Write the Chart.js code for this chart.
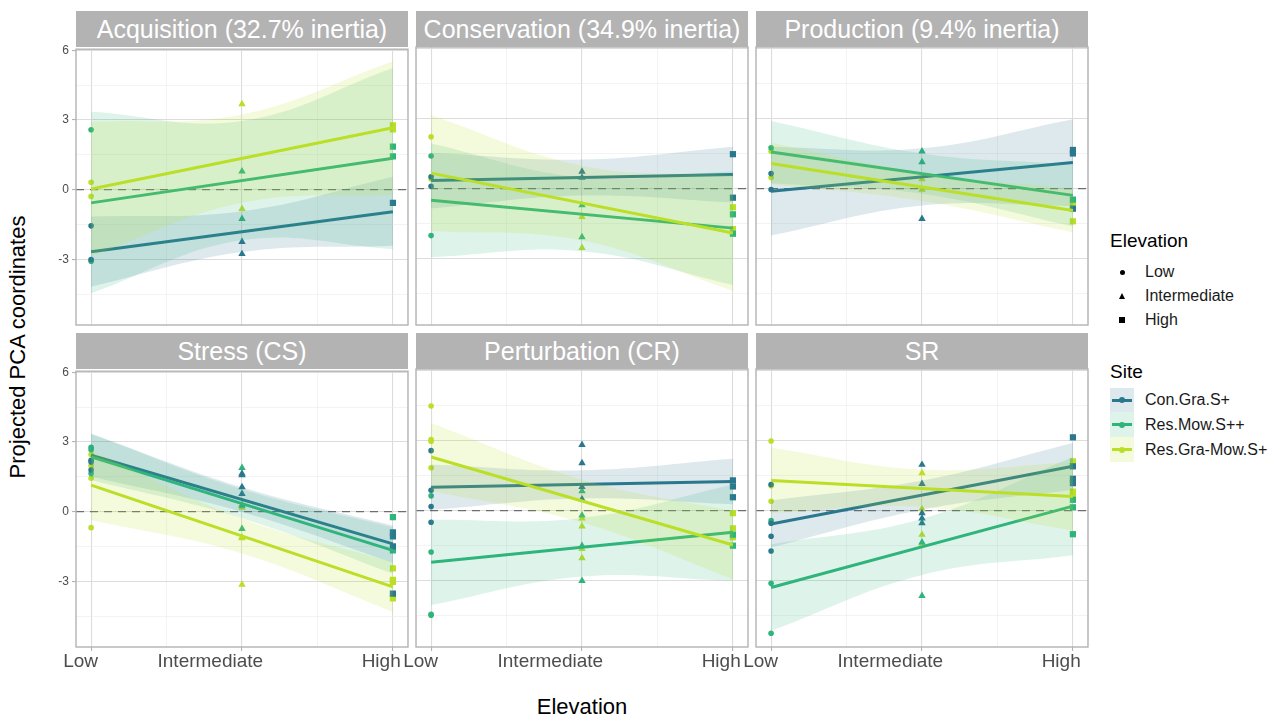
<!DOCTYPE html>
<html>
<head>
<meta charset="utf-8">
<script src="https://cdn.jsdelivr.net/npm/chart.js@4.4.1/dist/chart.umd.min.js"></script>
<style>
  body { margin: 0; background: #fff; font-family: "Liberation Sans", Arial, sans-serif; }
  #page { position: relative; width: 1283px; height: 717px; overflow: hidden; }
  .panel { position: absolute; }
  .strip { position: absolute; height: 36px; line-height: 37px; background: #b3b3b3; color: #fff;
           font-size: 25px; text-align: center; white-space: nowrap; }
  .title { position: absolute; font-size: 22px; color: #000; white-space: nowrap; }
  .lg-title { position: absolute; left: 1110px; font-size: 19px; color: #000; }
  .lg-text { position: absolute; left: 1145px; font-size: 16px; color: #1a1a1a; white-space: nowrap; }
  .sym { position: absolute; }
</style>
</head>
<body>
<div id="page"></div>
<script>
// facets, groups
const panelTitles = ['Acquisition (32.7% inertia)', 'Conservation (34.9% inertia)', 'Production (9.4% inertia)',
                     'Stress (CS)', 'Perturbation (CR)', 'SR'];
const sites = ['Con.Gra.S+', 'Res.Mow.S++', 'Res.Gra-Mow.S+'];
const elevations = ['Low', 'Intermediate', 'High'];
const yTickLabels = [-3, 0, 3, 6];

// observed PCA coordinates: [site][elevation] -> values
const ptsAcquisition = [
  [[-1.56, -3.01], [-2.25, -2.77], [-0.57]],
  [[2.58, -3.08], [0.79, -1.26], [1.85, 1.43]],
  [[0.32, -0.29], [3.69, -0.83], [2.77, 2.6]]
];
const ptsConservation = [
  [[0.5, 0.1], [0.73, 0.47], [1.47, -0.39]],
  [[1.39, -2.01], [-0.71, -2.07], [-1.1, -1.93]],
  [[2.21, 0.41], [-1.21, -2.53], [-0.8, -1.73]]
];
const ptsProduction = [
  [[0.64, -0.04], [-1.29], [1.65, 1.5, -0.86]],
  [[1.74], [1.59, 1.13], [-0.47]],
  [[1.6, 0.47], [0.41, -0.04], [-0.69, -1.4]]
];
const ptsStress = [
  [[2.21, 2.14, 1.79], [1.64, 1.57, 1.06, 0.77], [-0.89, -1.07, -1.5, -3.53]],
  [[2.77, 2.67, 1.64], [1.89, 0.26, -0.74], [-0.24, -1.67]],
  [[2.46, 1.97, 1.44, -0.69], [0.31, 0.17, -1.1, -1.14, -3.14], [-2.44, -2.94, -3.03, -3.74]]
];
const ptsPerturbation = [
  [[2.56, 0.87, 0.17, -0.5], [2.81, 2.03, 1.01, 0.49], [1.29, 1.03, 0.57]],
  [[0.63, -1.77, -4.43, -4.47], [0.83, -0.2, -1.51, -3.0], [-1.03, -1.5]],
  [[4.47, 3.04, 2.96, 1.83], [-0.33, -0.67, -1.64, -2.03], [-0.11, -0.76, -1.14]]
];
const ptsSR = [
  [[1.11, -0.54, -1.1, -1.73], [1.96, 1.14, -0.11, -0.33, -0.53], [3.13, 1.89, 1.36, 1.17]],
  [[-0.43, -3.11, -5.24], [-1.36, -3.64], [0.46, 0.14, -1.01]],
  [[2.97, 1.06, 0.4], [1.6, 0.07, -1.03, -1.4], [2.1, 0.81, 0.67]]
];

// fitted lines: [site] -> [Low, High]
const fitAcquisition = [[-2.67, -0.95], [-0.57, 1.35], [0.03, 2.67]];
const fitConservation = [[0.34, 0.6], [-0.5, -1.69], [0.66, -1.9]];
const fitProduction = [[-0.11, 1.11], [1.56, -0.29], [1.07, -0.94]];
const fitStress = [[2.43, -1.39], [2.36, -1.67], [1.14, -3.24]];
const fitPerturbation = [[1.0, 1.24], [-2.21, -0.93], [2.29, -1.47]];
const fitSR = [[-0.57, 1.89], [-3.29, 0.19], [1.29, 0.6]];

// confidence bands: [site] -> [upper(L,I,H), lower(L,I,H)]
const bandAcquisition = [
  [[-1.16, -0.93, 0.56], [-4.18, -2.69, -2.42]],
  [[3.36, 2.96, 5.24], [-4.46, -2.18, -2.56]],
  [[2.92, 3.24, 5.53], [-2.86, -0.56, -0.22]]
];
const bandConservation = [
  [[1.53, 1.24, 1.79], [-0.85, -0.3, -0.59]],
  [[1.93, 0.48, 0.74], [-2.93, -2.68, -4.12]],
  [[3.13, 0.98, 0.57], [-1.81, -2.22, -4.37]]
];
const bandProduction = [
  [[1.78, 1.72, 2.96], [-2.0, -0.72, -0.74]],
  [[2.89, 1.5, 1.04], [0.23, -0.22, -1.62]],
  [[1.96, 0.67, 0.0], [0.18, -0.53, -1.87]]
];
const bandStress = [
  [[3.36, 1.05, -0.6], [1.5, -0.01, -2.2]],
  [[3.36, 0.97, -0.67], [1.36, -0.28, -2.67]],
  [[2.64, -0.3, -2.17], [-0.36, -1.8, -4.31]]
];
const bandPerturbation = [
  [[1.97, 1.72, 2.21], [0.03, 0.52, 0.27]],
  [[-0.39, -0.32, 1.11], [-4.04, -2.82, -3.0]],
  [[3.74, 1.33, -0.02], [0.84, -0.51, -2.93]]
];
const bandSR = [
  [[0.43, 1.28, 2.89], [-1.57, 0.04, 0.89]],
  [[-1.44, -0.35, 2.29], [-5.14, -2.75, -1.91]],
  [[2.69, 1.75, 2.06], [-0.11, 0.15, -0.86]]
];

const allPts = [ptsAcquisition, ptsConservation, ptsProduction, ptsStress, ptsPerturbation, ptsSR];
const allFits = [fitAcquisition, fitConservation, fitProduction, fitStress, fitPerturbation, fitSR];
const allBands = [bandAcquisition, bandConservation, bandProduction, bandStress, bandPerturbation, bandSR];

// look
const siteColors = ['#2A788E', '#2FB47C', '#BBDF27'];
const siteFills = ['rgba(42,120,142,0.16)', 'rgba(47,180,124,0.16)', 'rgba(187,223,39,0.16)'];
const elevStyles = ['circle', 'triangle', 'rect'];
const elevRadius = [2.8, 4.3, 4.4];

const colLeft = [76, 416, 756];
const rowTop = [47, 369];
const panelW = 332, panelH = 278;
const padL = 40, padT = 8, padR = 14, padB = 32;
const xGrid = [1, 1.5, 2, 2.5, 3];
const yGrid = [-4.5, -3, -1.5, 0, 1.5, 3, 4.5, 6];

Chart.defaults.font.family = '"Liberation Sans", Arial, sans-serif';

const page = document.getElementById('page');

function isMajorX(v) { return Number.isInteger(v); }
function isMajorY(v) { return yTickLabels.includes(v); }

function buildDatasets(pts, fit, band) {
  const ds = [];
  pts.forEach((bySite, s) => {
    bySite.forEach((vals, e) => {
      ds.push({
        data: vals.map(v => ({x: e + 1, y: v})),
        pointStyle: elevStyles[e],
        pointRadius: elevRadius[e],
        backgroundColor: siteColors[s],
        borderWidth: 0,
        order: 100
      });
    });
  });
  fit.forEach((f, s) => {
    const o = 60 - 20 * s;
    ds.push({
      data: band[s][0].map((v, e) => ({x: e + 1, y: v})),
      showLine: true, tension: 0.4, borderWidth: 0, borderColor: 'rgba(0,0,0,0)',
      pointRadius: 0, fill: '+1', backgroundColor: siteFills[s], order: o
    });
    ds.push({
      data: band[s][1].map((v, e) => ({x: e + 1, y: v})),
      showLine: true, tension: 0.4, borderWidth: 0, borderColor: 'rgba(0,0,0,0)',
      pointRadius: 0, fill: false, order: o
    });
    ds.push({
      data: [{x: 1, y: f[0]}, {x: 3, y: f[1]}],
      showLine: true, borderColor: siteColors[s], borderWidth: 3,
      pointRadius: 0, fill: false, order: o - 10
    });
  });
  return ds;
}

function panelPlugin(showX) {
  return {
    id: 'panelDeco',
    beforeDatasetsDraw(chart) {
      const {ctx, chartArea: a, scales} = chart;
      const y0 = scales.y.getPixelForValue(0);
      ctx.save();
      ctx.strokeStyle = '#6e6e6e';
      ctx.lineWidth = 1.3;
      ctx.setLineDash([8, 6]);
      ctx.beginPath();
      ctx.moveTo(a.left, y0);
      ctx.lineTo(a.right, y0);
      ctx.stroke();
      ctx.restore();
    },
    afterDraw(chart) {
      const {ctx, chartArea: a, scales} = chart;
      ctx.save();
      ctx.strokeStyle = '#b3b3b3';
      ctx.lineWidth = 1.4;
      ctx.strokeRect(a.left, a.top, a.right - a.left, a.bottom - a.top);
      if (showX) {
        ctx.font = '19px "Liberation Sans", Arial, sans-serif';
        ctx.fillStyle = '#4d4d4d';
        ctx.textBaseline = 'top';
        ctx.textAlign = 'left';
        elevations.forEach((lab, i) => {
          const w = ctx.measureText(lab).width;
          const px = scales.x.getPixelForValue(i + 1);
          ctx.fillText(lab, px - 0.8 * w, a.bottom + 5);
        });
      }
      ctx.restore();
    }
  };
}

panelTitles.forEach((title, i) => {
  const col = i % 3, row = Math.floor(i / 3);
  const showX = row === 1, showY = col === 0;

  const strip = document.createElement('div');
  strip.className = 'strip';
  strip.style.left = colLeft[col] + 'px';
  strip.style.top = (rowTop[row] - 36) + 'px';
  strip.style.width = panelW + 'px';
  strip.textContent = title;
  page.appendChild(strip);

  const box = document.createElement('div');
  box.className = 'panel';
  const w = panelW + padL + padR, h = panelH + padT + padB;
  box.style.left = (colLeft[col] - padL) + 'px';
  box.style.top = (rowTop[row] - padT) + 'px';
  box.style.width = w + 'px';
  box.style.height = h + 'px';
  const cv = document.createElement('canvas');
  cv.width = w; cv.height = h;
  box.appendChild(cv);
  page.appendChild(box);

  new Chart(cv, {
    type: 'scatter',
    data: {datasets: buildDatasets(allPts[i], allFits[i], allBands[i])},
    options: {
      responsive: false,
      animation: false,
      layout: {padding: {top: padT, right: padR, left: 0, bottom: 0}},
      plugins: {legend: {display: false}, tooltip: {enabled: false}},
      scales: {
        x: {
          type: 'linear', min: 0.9, max: 3.1, bounds: 'data',
          afterBuildTicks: s => { s.ticks = xGrid.map(v => ({value: v})); },
          afterFit: s => { s.height = padB; },
          ticks: {display: false, autoSkip: false},
          border: {display: false},
          grid: {
            color: c => isMajorX(c.tick.value) ? '#dcdcdc' : '#ebebeb',
            lineWidth: c => isMajorX(c.tick.value) ? 1.1 : 0.6,
            drawTicks: showX, tickLength: 4,
            tickColor: c => isMajorX(c.tick.value) ? '#b3b3b3' : 'rgba(0,0,0,0)'
          }
        },
        y: {
          type: 'linear', min: -5.83, max: 6.05, bounds: 'data',
          afterBuildTicks: s => { s.ticks = yGrid.map(v => ({value: v})); },
          afterFit: s => { s.width = padL; },
          ticks: {
            display: showY, autoSkip: false, color: '#4d4d4d', padding: 3,
            font: {size: 12},
            callback: v => isMajorY(v) ? String(v) : ''
          },
          border: {display: false},
          grid: {
            color: c => isMajorY(c.tick.value) ? '#dcdcdc' : '#ebebeb',
            lineWidth: c => isMajorY(c.tick.value) ? 1.1 : 0.6,
            drawTicks: showY, tickLength: 4,
            tickColor: c => isMajorY(c.tick.value) ? '#b3b3b3' : 'rgba(0,0,0,0)'
          }
        }
      }
    },
    plugins: [panelPlugin(showX)]
  });
});

// axis titles
function addText(cls, text, css) {
  const d = document.createElement('div');
  d.className = cls;
  d.textContent = text;
  Object.assign(d.style, css);
  page.appendChild(d);
  return d;
}
addText('title', 'Projected PCA coordinates',
  {left: '18px', top: '347px', transform: 'translate(-50%, -50%) rotate(-90deg)'});
addText('title', 'Elevation', {left: '582px', top: '707px', transform: 'translate(-50%, -50%)'});

// legend: Elevation
addText('lg-title', 'Elevation', {top: '241px', transform: 'translateY(-50%)'});
const elevY = [272, 296, 319.5];
elevations.forEach((lab, e) => {
  addText('lg-text', lab, {top: elevY[e] + 'px', transform: 'translateY(-50%)'});
  const s = document.createElement('div');
  s.className = 'sym';
  if (e === 0) {
    Object.assign(s.style, {left: '1119.5px', top: (elevY[e] - 2.5) + 'px', width: '5px', height: '5px',
      borderRadius: '50%', background: '#000'});
  } else if (e === 1) {
    Object.assign(s.style, {left: '1118.5px', top: (elevY[e] - 3.5) + 'px', width: 0, height: 0,
      borderLeft: '3.5px solid transparent', borderRight: '3.5px solid transparent', borderBottom: '6px solid #000'});
  } else {
    Object.assign(s.style, {left: '1119px', top: (elevY[e] - 3) + 'px', width: '6px', height: '6px', background: '#000'});
  }
  page.appendChild(s);
});

// legend: Site
addText('lg-title', 'Site', {top: '372px', transform: 'translateY(-50%)'});
const siteY = [400, 424.5, 449.5];
sites.forEach((lab, s) => {
  const key = document.createElement('div');
  key.className = 'sym';
  Object.assign(key.style, {left: '1110px', top: (siteY[s] - 12.2) + 'px', width: '24px', height: '24.5px',
    background: siteFills[s]});
  page.appendChild(key);
  const ln = document.createElement('div');
  ln.className = 'sym';
  Object.assign(ln.style, {left: '1112px', top: (siteY[s] - 1.5) + 'px', width: '20px', height: '3px',
    background: siteColors[s]});
  page.appendChild(ln);
  const dot = document.createElement('div');
  dot.className = 'sym';
  Object.assign(dot.style, {left: '1119px', top: (siteY[s] - 3) + 'px', width: '6px', height: '6px',
    borderRadius: '50%', background: siteColors[s]});
  page.appendChild(dot);
  addText('lg-text', lab, {top: siteY[s] + 'px', transform: 'translateY(-50%)'});
});
</script>
</body>
</html>
